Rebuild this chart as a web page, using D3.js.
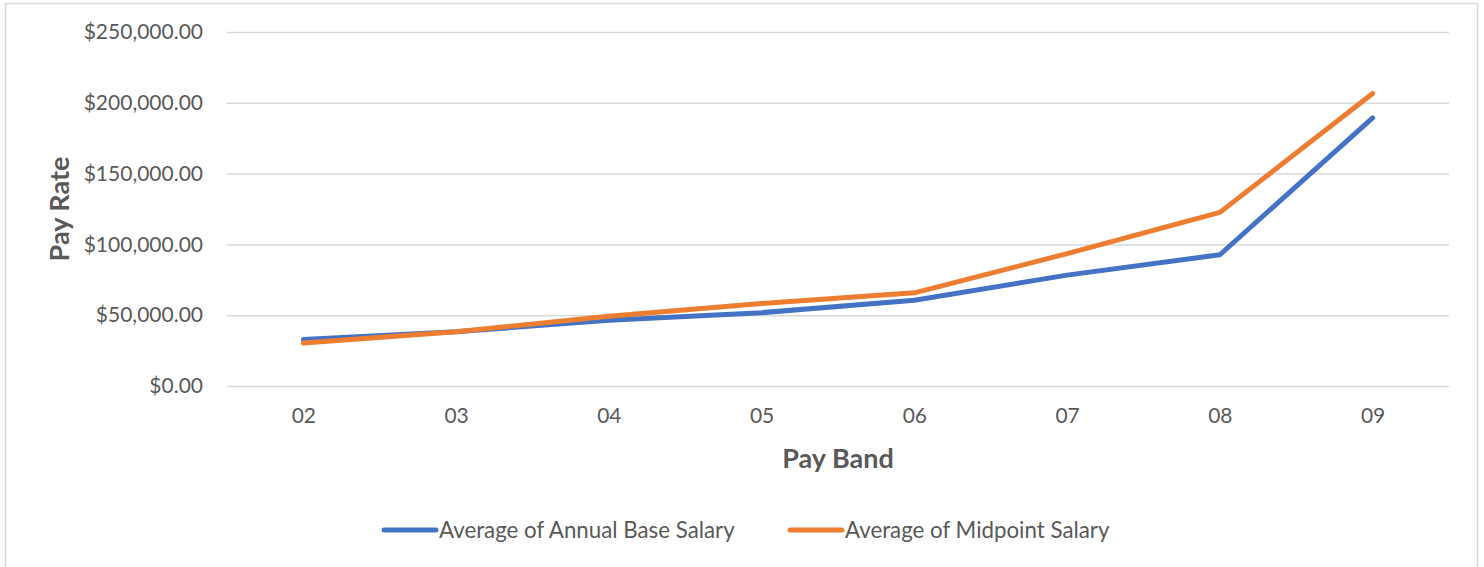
<!DOCTYPE html>
<html>
<head>
<meta charset="utf-8">
<script src="https://cdn.jsdelivr.net/npm/d3@7/dist/d3.min.js"></script>
<style>
  html, body { margin: 0; padding: 0; background: #fff; }
  svg { display: block; font-family: Lato, "Open Sans", sans-serif; }
</style>
</head>
<body>
<svg id="chart" width="1484" height="567"></svg>
<script>
// Pay bands and the two salary averages per band
const bands = ["02", "03", "04", "05", "06", "07", "08", "09"];
const annualBase = [32900, 38300, 46500, 51800, 60500, 78300, 92700, 189400];
const midpoint = [30300, 38300, 49200, 58300, 65800, 93500, 122600, 206600];
const yTicks = [0, 50000, 100000, 150000, 200000, 250000];
const seriesNames = ["Average of Annual Base Salary", "Average of Midpoint Salary"];
const seriesColors = ["#4472C4", "#ED7D31"];

const svg = d3.select("#chart");
const textColor = "#595959";
const gridColor = "#d9d9d9";
const tickFont = 21;

// outer chart frame
svg.append("rect")
  .attr("x", 5.5).attr("y", 3.5)
  .attr("width", 1472).attr("height", 600)
  .attr("fill", "none").attr("stroke", gridColor).attr("stroke-width", 1.5);

const plot = { left: 227, right: 1449, top: 32, bottom: 386 };

const x = d3.scalePoint().domain(bands)
  .range([plot.left, plot.right]).padding(0.5);
const y = d3.scaleLinear().domain([0, 250000])
  .range([plot.bottom, plot.top]);

const fmt = v => "$" + d3.format(",.2f")(v);

// horizontal gridlines + y labels
const yAxis = d3.axisLeft(y).tickValues(yTicks).tickFormat(fmt)
  .tickSize(-(plot.right - plot.left)).tickPadding(24);
const gy = svg.append("g").attr("transform", `translate(${plot.left},0)`).call(yAxis);
gy.select(".domain").remove();
gy.selectAll(".tick line").attr("stroke", gridColor).attr("stroke-width", 1.5);
gy.selectAll(".tick text").attr("fill", textColor).attr("font-size", tickFont)
  .attr("font-family", "Lato, 'Open Sans', sans-serif");

// x labels
const xAxis = d3.axisBottom(x).tickSize(0).tickPadding(22);
const gx = svg.append("g").attr("transform", `translate(0,${plot.bottom})`).call(xAxis);
gx.select(".domain").remove();
gx.selectAll(".tick text").attr("fill", textColor).attr("font-size", tickFont)
  .attr("font-family", "Lato, 'Open Sans', sans-serif");

// axis titles
svg.append("text")
  .attr("x", (plot.left + plot.right) / 2).attr("y", 468)
  .attr("text-anchor", "middle").attr("fill", textColor)
  .attr("font-size", 27).attr("font-weight", "bold")
  .text("Pay Band");
svg.append("text")
  .attr("transform", `translate(69,${(plot.top + plot.bottom) / 2}) rotate(-90)`)
  .attr("text-anchor", "middle").attr("fill", textColor)
  .attr("font-size", 27).attr("font-weight", "bold")
  .text("Pay Rate");

// series lines
const line = d3.line().x((d, i) => x(bands[i])).y(d => y(d));
[annualBase, midpoint].forEach((vals, k) => {
  svg.append("path")
    .datum(vals)
    .attr("d", line)
    .attr("fill", "none")
    .attr("stroke", seriesColors[k])
    .attr("stroke-width", 5)
    .attr("stroke-linecap", "round")
    .attr("stroke-linejoin", "round");
});

// legend
const legendX = [384, 790];
seriesNames.forEach((name, k) => {
  const g = svg.append("g").attr("transform", `translate(${legendX[k]},530)`);
  g.append("line").attr("x1", 0).attr("x2", 52).attr("y1", 0).attr("y2", 0)
    .attr("stroke", seriesColors[k]).attr("stroke-width", 5).attr("stroke-linecap", "round");
  g.append("text").attr("x", 55).attr("y", 0).attr("dy", "0.35em")
    .attr("fill", textColor).attr("font-size", 22.3).text(name);
});
</script>
</body>
</html>
